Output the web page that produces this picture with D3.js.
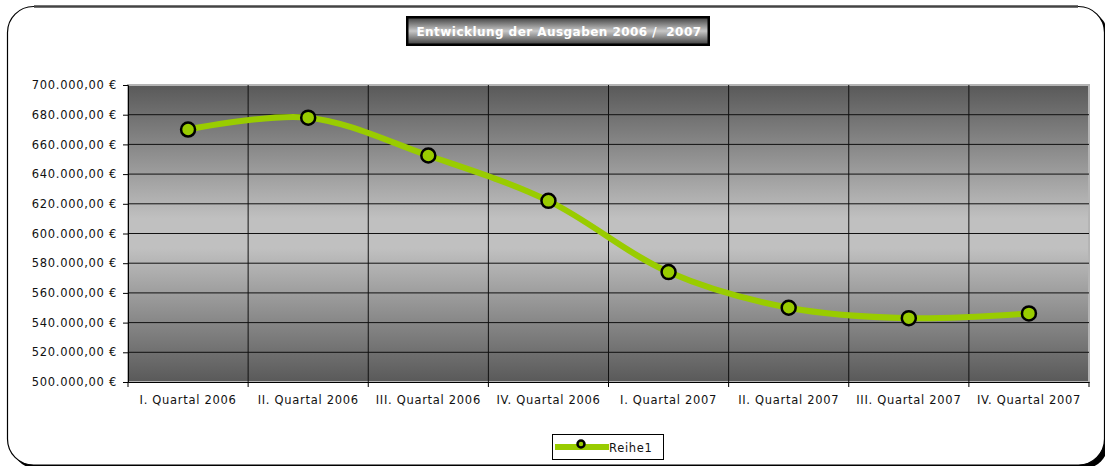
<!DOCTYPE html>
<html>
<head>
<meta charset="utf-8">
<script src="https://cdn.jsdelivr.net/npm/d3@7"></script>
<style>
  body { margin: 0; background: #fff; }
  text { font-family: "DejaVu Sans", Verdana, sans-serif; }
</style>
</head>
<body>
<script>
var quarters = ["I. Quartal 2006","II. Quartal 2006","III. Quartal 2006","IV. Quartal 2006",
                "I. Quartal 2007","II. Quartal 2007","III. Quartal 2007","IV. Quartal 2007"];
var ausgaben = [670000, 678000, 652500, 622000, 574000, 550000, 543000, 546200];
var yTicks = [500000,520000,540000,560000,580000,600000,620000,640000,660000,680000,700000];
var seriesName = "Reihe1";
var chartTitle = "Entwicklung der Ausgaben 2006 /  2007";

var W = 1105, H = 466;
var mLeft = 128, mRight = 1089, mTop = 85, mBottom = 382;
var fs = 11.5, ls = 0.7;

var svg = d3.select("body").append("svg").attr("width", W).attr("height", H);
var defs = svg.append("defs");

var bg = defs.append("linearGradient").attr("id","bg").attr("x1",0).attr("y1",0).attr("x2",0).attr("y2",1);
bg.append("stop").attr("offset","0%").attr("stop-color","#595959");
bg.append("stop").attr("offset","45%").attr("stop-color","#c0c0c0");
bg.append("stop").attr("offset","55%").attr("stop-color","#c0c0c0");
bg.append("stop").attr("offset","100%").attr("stop-color","#595959");

var tg = defs.append("linearGradient").attr("id","tg").attr("x1",0).attr("y1",0).attr("x2",0).attr("y2",1);
tg.append("stop").attr("offset","0%").attr("stop-color","#4a4a4a");
tg.append("stop").attr("offset","50%").attr("stop-color","#c8c8c8");
tg.append("stop").attr("offset","100%").attr("stop-color","#4a4a4a");

// outer frame with shadow (bottom/right run off the page)
svg.append("rect").attr("x",11.5).attr("y",10.5).attr("width",1097).attr("height",458.5)
   .attr("rx",26).attr("fill","#000");
svg.append("rect").attr("x",7.5).attr("y",6.5).attr("width",1097).attr("height",458.5)
   .attr("rx",26).attr("fill","#fff").attr("stroke","#000").attr("stroke-width",1.2);
svg.append("line").attr("x1",34).attr("x2",1078).attr("y1",6.5).attr("y2",6.5)
   .attr("stroke","#444").attr("stroke-width",2.5);

var x = d3.scaleBand().domain(quarters).range([mLeft, mRight]);
var y = d3.scaleLinear().domain([500000, 700000]).range([mBottom, mTop]);

// plot area
svg.append("rect").attr("x",mLeft).attr("y",mTop).attr("width",mRight-mLeft).attr("height",mBottom-mTop)
   .attr("fill","url(#bg)").attr("stroke","#b4b4b4").attr("stroke-width",2);

// grid
svg.append("g").selectAll("line").data(yTicks.slice(1,-1)).join("line")
   .attr("x1",mLeft).attr("x2",mRight).attr("y1",d=>y(d)).attr("y2",d=>y(d))
   .attr("stroke","#111").attr("stroke-width",1);
svg.append("g").selectAll("line").data(quarters.slice(1)).join("line")
   .attr("x1",d=>x(d)).attr("x2",d=>x(d)).attr("y1",mTop).attr("y2",mBottom)
   .attr("stroke","#111").attr("stroke-width",1);

var fmt = function(v){
  var s = d3.format(",.2f")(v);
  return s.replace(/,/g,"#").replace(".",",").replace(/#/g,".") + " €";
};

var yAxis = svg.append("g").attr("transform","translate("+mLeft+",0)")
  .call(d3.axisLeft(y).tickValues(yTicks).tickFormat(fmt).tickSize(5).tickPadding(6));
var xAxis = svg.append("g").attr("transform","translate(0,"+mBottom+")")
  .call(d3.axisBottom(x).tickSize(0).tickPadding(14));
xAxis.selectAll(".tick line").remove();
xAxis.append("g").selectAll("line").data(quarters.concat(["end"])).join("line")
  .attr("x1",(d,i)=>mLeft + i*x.bandwidth()).attr("x2",(d,i)=>mLeft + i*x.bandwidth())
  .attr("y1",0).attr("y2",5).attr("stroke","#000");
[yAxis, xAxis].forEach(function(a){
  a.select(".domain").attr("stroke","#000");
  a.selectAll("text").attr("font-size",fs).attr("fill","#111").attr("letter-spacing",ls)
   .attr("font-family","'DejaVu Sans', Verdana, sans-serif");
});

// series
var line = d3.line()
  .x((d,i)=>x(quarters[i]) + x.bandwidth()/2)
  .y(d=>y(d))
  .curve(d3.curveCatmullRom.alpha(0.5));
svg.append("path").attr("d", line(ausgaben)).attr("fill","none")
   .attr("stroke","#99cc00").attr("stroke-width",6);
svg.append("g").selectAll("circle").data(ausgaben).join("circle")
   .attr("cx",(d,i)=>x(quarters[i]) + x.bandwidth()/2).attr("cy",d=>y(d))
   .attr("r",7).attr("fill","#99cc00").attr("stroke","#000").attr("stroke-width",2.5);

// title
var tbox = svg.append("g");
tbox.append("rect").attr("x",406).attr("y",16).attr("width",304).attr("height",30)
   .attr("fill","#000");
tbox.append("rect").attr("x",408.5).attr("y",18.5).attr("width",299).attr("height",25)
   .attr("fill","url(#tg)");
tbox.append("text").attr("x",559).attr("y",35.5).attr("text-anchor","middle")
   .attr("font-size",12).attr("font-weight","bold").attr("fill","#fff").attr("letter-spacing",0.45)
   .attr("xml:space","preserve").style("white-space","pre").text(chartTitle);

// legend
var lg = svg.append("g");
lg.append("rect").attr("x",552.5).attr("y",434.5).attr("width",111).attr("height",25)
  .attr("fill","#fff").attr("stroke","#000");
lg.append("line").attr("x1",555).attr("x2",609).attr("y1",447).attr("y2",447)
  .attr("stroke","#99cc00").attr("stroke-width",6);
lg.append("circle").attr("cx",581).attr("cy",444).attr("r",3.5)
  .attr("fill","#99cc00").attr("stroke","#000").attr("stroke-width",2.5);
lg.append("text").attr("x",609).attr("y",452).attr("font-size",fs).attr("letter-spacing",ls)
  .attr("fill","#111").text(seriesName);
</script>
</body>
</html>
